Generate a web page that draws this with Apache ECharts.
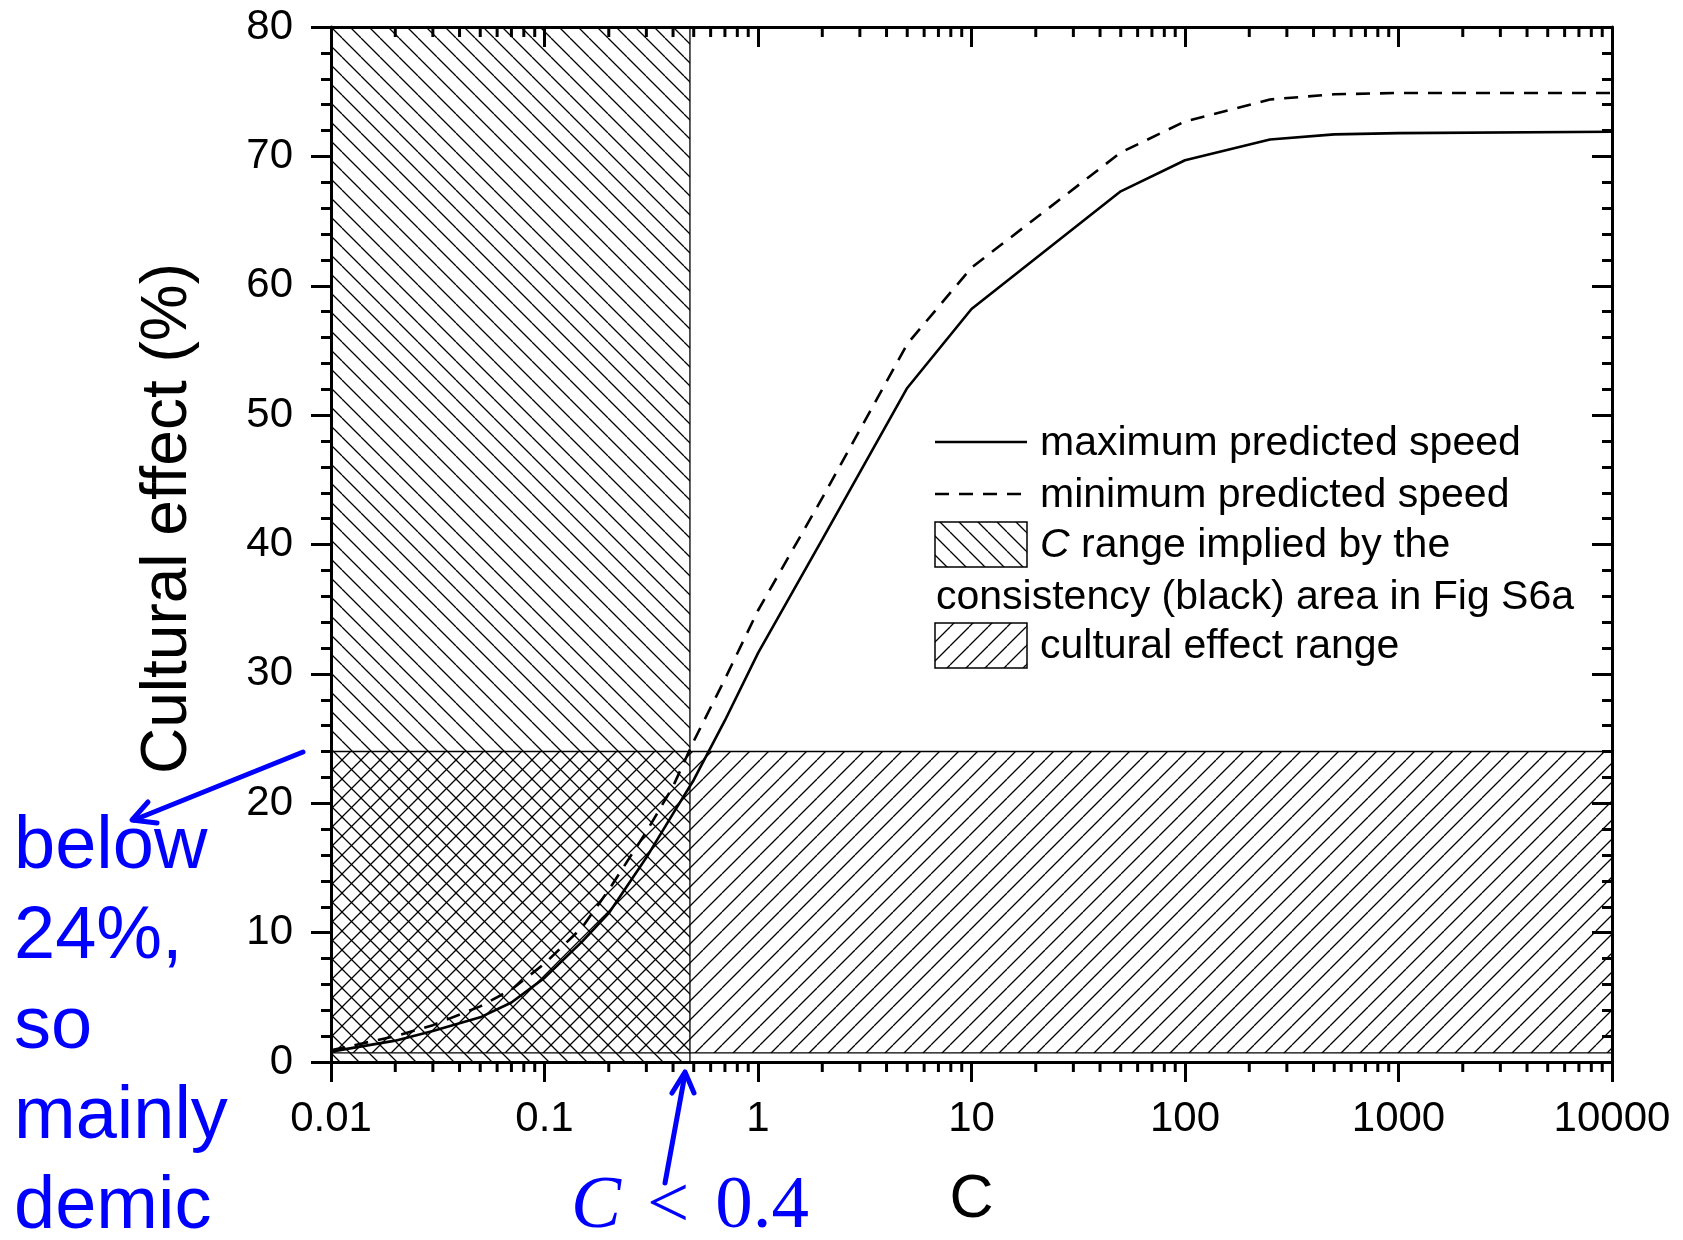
<!DOCTYPE html>
<html>
<head>
<meta charset="utf-8">
<script src="https://cdn.jsdelivr.net/npm/echarts@6/dist/echarts.min.js"></script>
<style>html,body{margin:0;padding:0;background:#fff}#chart{width:1683px;height:1240px}</style>
</head>
<body>
<div id="chart"></div>
<script>
// ---- data ----
const cValues        = [0.01, 0.02, 0.03, 0.05, 0.07, 0.1, 0.15, 0.2, 0.3, 0.4, 0.5, 0.7, 1, 2, 5, 10, 50, 100, 250, 500, 1000, 10000];
const maxSpeedEffect = [0.8, 1.65, 2.4, 3.45, 4.6, 6.5, 9.3, 11.5, 15.8, 19.2, 21.8, 26.4, 31.6, 40.4, 52.1, 58.2, 67.3, 69.7, 71.3, 71.7, 71.8, 71.9];
const minSpeedEffect = [0.9, 2.0, 2.85, 4.3, 5.6, 7.6, 10.4, 13.3, 17.8, 21.3, 24.8, 29.6, 34.9, 43.6, 55.5, 61.4, 70.3, 72.7, 74.4, 74.8, 74.9, 74.9];
const cRangeX = [0.01, 0.48];        // C range implied by consistency area
const cRangeY = [0, 80];
const effectRangeX = [0.01, 10000];  // cultural effect range
const effectRangeY = [0.7, 24];
const xTickLabels = ['0.01', '0.1', '1', '10', '100', '1000', '10000'];
const yTickLabels = ['0', '10', '20', '30', '40', '50', '60', '70', '80'];
const logMinorTicks = [];
for (let k = -2; k <= 3; k++) for (let m = 2; m <= 9; m++) logMinorTicks.push(+(m * Math.pow(10, k)).toPrecision(3));

// ---- hatch patterns ----
function hatch(dir, size) {
  const c = document.createElement('canvas');
  c.width = size; c.height = size;
  const g = c.getContext('2d');
  g.strokeStyle = '#000'; g.lineWidth = 1.3;
  g.beginPath();
  for (const k of [-size, 0, size]) {
    if (dir === 'back') { g.moveTo(k, 0); g.lineTo(k + size, size); }
    else { g.moveTo(k + size, 0); g.lineTo(k, size); }
  }
  g.stroke();
  return { image: c, repeat: 'repeat' };
}
const patBack = hatch('back', 19);
const patFwd = hatch('fwd', 19);

const FONT = '"Liberation Sans", Arial, sans-serif';
const chart = echarts.init(document.getElementById('chart'), null, { renderer: 'canvas' });

const axisCommonX = {
  type: 'log', logBase: 10, min: 0.01, max: 10000,
  axisLine: { show: true, onZero: false, lineStyle: { color: '#000', width: 3 } },
  splitLine: { show: false }
};
const axisCommonY = {
  type: 'value', min: 0, max: 80, interval: 10,
  axisLine: { show: true, onZero: false, lineStyle: { color: '#000', width: 3 } },
  minorTick: { show: true, splitNumber: 5, length: 10, lineStyle: { color: '#000', width: 3 } },
  splitLine: { show: false }, minorSplitLine: { show: false }
};

chart.setOption({
  animation: false,
  backgroundColor: '#fff',
  grid: { left: 331, right: 71, top: 27, bottom: 178, containLabel: false },
  xAxis: [
    Object.assign({}, axisCommonX, {
      position: 'bottom',
      axisTick: { show: true, inside: false, length: 20, lineStyle: { color: '#000', width: 3 } },
      axisLabel: { show: true, color: '#000', fontSize: 42, fontFamily: FONT, margin: 36,
        formatter: v => xTickLabels[Math.round(Math.log10(v)) + 2] },
      name: 'C', nameLocation: 'middle', nameGap: 108,
      nameTextStyle: { fontSize: 61, color: '#000', fontFamily: FONT }
    }),
    Object.assign({}, axisCommonX, {
      position: 'top',
      axisTick: { show: true, inside: true, length: 20, lineStyle: { color: '#000', width: 3 } },
      axisLabel: { show: false }
    })
  ],
  yAxis: [
    Object.assign({}, axisCommonY, {
      position: 'left',
      axisTick: { show: true, inside: false, length: 20, lineStyle: { color: '#000', width: 3 } },
      axisLabel: { show: true, color: '#000', fontSize: 42, fontFamily: FONT, margin: 38,
        formatter: v => yTickLabels[Math.round(v / 10)] },
      name: 'Cultural effect (%)', nameLocation: 'middle', nameGap: 131,
      nameTextStyle: { fontSize: 64, color: '#000', fontFamily: FONT, padding: [0, 0, 0, 52] }
    }),
    Object.assign({}, axisCommonY, {
      position: 'right',
      axisTick: { show: true, inside: true, length: 20, lineStyle: { color: '#000', width: 3 } },
      axisLabel: { show: false }
    })
  ],
  series: [
    {
      type: 'custom', name: 'ranges', silent: true, clip: false, z: 1,
      xAxisIndex: 0, yAxisIndex: 0,
      encode: { x: [0, 1], y: [2, 3] },
      data: [
        [cRangeX[0], cRangeX[1], cRangeY[0], cRangeY[1], 0],
        [effectRangeX[0], effectRangeX[1], effectRangeY[0], effectRangeY[1], 1]
      ],
      renderItem: function (params, api) {
        const p0 = api.coord([api.value(0), api.value(3)]);
        const p1 = api.coord([api.value(1), api.value(2)]);
        return {
          type: 'rect',
          shape: { x: p0[0], y: p0[1], width: p1[0] - p0[0], height: p1[1] - p0[1] },
          style: { fill: api.value(4) ? patFwd : patBack, stroke: '#000', lineWidth: 1.3 }
        };
      }
    },
    {
      type: 'line', name: 'maximum predicted speed', z: 3,
      data: cValues.map((c, i) => [c, maxSpeedEffect[i]]),
      showSymbol: false, symbol: 'none',
      lineStyle: { color: '#000', width: 2.6, type: 'solid' }
    },
    {
      type: 'line', name: 'minimum predicted speed', z: 3,
      data: cValues.map((c, i) => [c, minSpeedEffect[i]]),
      showSymbol: false, symbol: 'none',
      lineStyle: { color: '#000', width: 2.6, type: [14, 10] }
    },
    {
      type: 'custom', name: 'minorTicks', silent: true, clip: false, z: 5,
      xAxisIndex: 0, yAxisIndex: 0, encode: { x: 0, y: 1 },
      data: logMinorTicks.map(v => [v, 0]),
      renderItem: function (params, api) {
        const v = api.value(0);
        const pb = api.coord([v, 0]);
        const pt = api.coord([v, 80]);
        const st = { stroke: '#000', lineWidth: 3 };
        return { type: 'group', children: [
          { type: 'line', shape: { x1: pb[0], y1: pb[1], x2: pb[0], y2: pb[1] + 10 }, style: st },
          { type: 'line', shape: { x1: pt[0], y1: pt[1], x2: pt[0], y2: pt[1] + 10 }, style: st }
        ] };
      }
    }
  ],
  graphic: [
    // legend
    { type: 'line', shape: { x1: 935, y1: 442, x2: 1027, y2: 442 }, style: { stroke: '#000', lineWidth: 2.6 } },
    { type: 'text', x: 1040, y: 444, style: { text: 'maximum predicted speed', fontSize: 41, fontFamily: FONT, fill: '#000', verticalAlign: 'middle' } },
    { type: 'line', shape: { x1: 935, y1: 494, x2: 1027, y2: 494 }, style: { stroke: '#000', lineWidth: 2.6, lineDash: [14, 10] } },
    { type: 'text', x: 1040, y: 496, style: { text: 'minimum predicted speed', fontSize: 41, fontFamily: FONT, fill: '#000', verticalAlign: 'middle' } },
    { type: 'rect', shape: { x: 935, y: 522, width: 92, height: 45 }, style: { fill: patBack, stroke: '#000', lineWidth: 1.5 } },
    { type: 'text', x: 1040, y: 546, style: { text: '{i|C} range implied by the', fontSize: 41, fontFamily: FONT, fill: '#000', verticalAlign: 'middle',
        rich: { i: { fontStyle: 'italic', fontSize: 41, fontFamily: FONT, fill: '#000' } } } },
    { type: 'text', x: 936, y: 598, style: { text: 'consistency (black) area in Fig S6a', fontSize: 41, fontFamily: FONT, fill: '#000', verticalAlign: 'middle' } },
    { type: 'rect', shape: { x: 935, y: 623, width: 92, height: 45 }, style: { fill: patFwd, stroke: '#000', lineWidth: 1.5 } },
    { type: 'text', x: 1040, y: 647, style: { text: 'cultural effect range', fontSize: 41, fontFamily: FONT, fill: '#000', verticalAlign: 'middle' } },
    // blue annotations
    { type: 'text', x: 14, y: 803, style: { text: 'below\n24%,\nso\nmainly\ndemic', fontSize: 74, lineHeight: 90, fontFamily: FONT, fill: '#0000FF' } },
    { type: 'polyline', shape: { points: [[303, 752], [134, 820]] }, style: { stroke: '#0000FF', lineWidth: 5, lineCap: 'round', fill: null } },
    { type: 'polyline', shape: { points: [[148, 802], [132, 820], [157, 823]] }, style: { stroke: '#0000FF', lineWidth: 5, lineCap: 'round', lineJoin: 'round', fill: null } },
    { type: 'polyline', shape: { points: [[665, 1183], [685, 1074]] }, style: { stroke: '#0000FF', lineWidth: 5, lineCap: 'round', fill: null } },
    { type: 'polyline', shape: { points: [[672, 1093], [685, 1072], [694, 1093]] }, style: { stroke: '#0000FF', lineWidth: 5, lineCap: 'round', lineJoin: 'round', fill: null } },
    { type: 'text', x: 690, y: 1207, style: { text: '{i|C}{s| }<{s| }0.4', align: 'center', verticalAlign: 'middle', fontSize: 75, fontFamily: '"Liberation Serif", serif', fill: '#0000FF',
        rich: { i: { fontStyle: 'italic', fontSize: 75, fontFamily: '"Liberation Serif", serif', fill: '#0000FF' },
                s: { fontSize: 104, fontFamily: '"Liberation Serif", serif' } } } }
  ]
});
</script>
</body>
</html>
